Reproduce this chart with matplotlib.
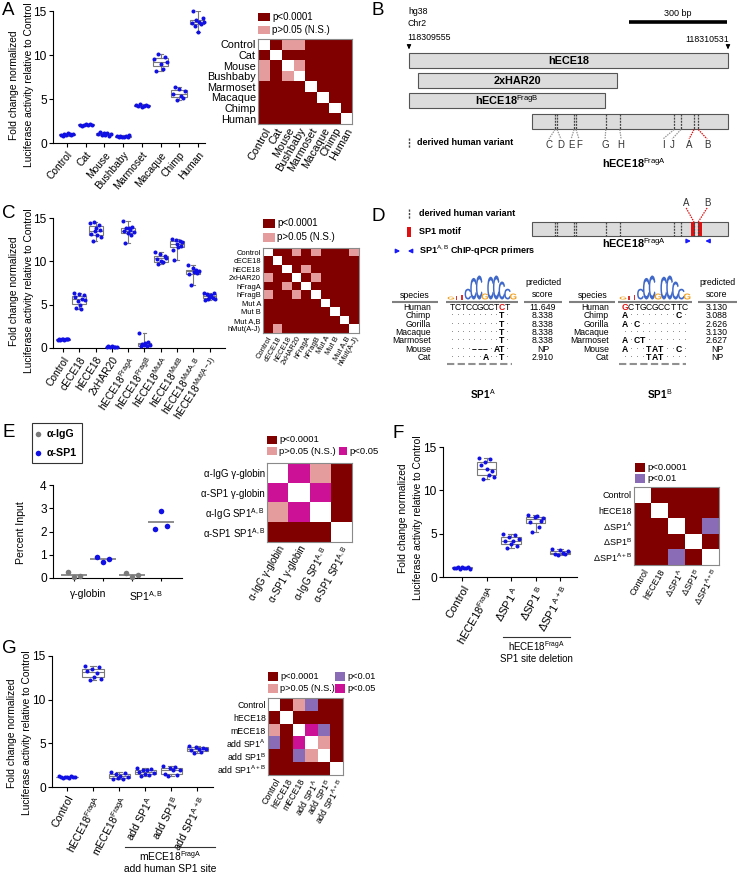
import numpy as np
import matplotlib
matplotlib.use("Agg")
import matplotlib.pyplot as plt
from matplotlib.patches import Rectangle, PathPatch
from matplotlib.colors import ListedColormap
from matplotlib.textpath import TextPath
from matplotlib.font_manager import FontProperties
from matplotlib.transforms import Affine2D

plt.rcParams["font.family"] = ["Liberation Sans", "DejaVu Sans"]
plt.rcParams["mathtext.fontset"] = "custom"
plt.rcParams["mathtext.rm"] = "Liberation Sans"
plt.rcParams["mathtext.it"] = "Liberation Sans:italic"
plt.rcParams["mathtext.bf"] = "Liberation Sans:bold"
plt.rcParams["axes.linewidth"] = 0.8


def sup(base, s):
    return base + r"$^{\mathrm{" + s + "}}$"


# ---------------- data ----------------
# A: species enhancers
labels_A = ["Control", "Cat", "Mouse", "Bushbaby", "Marmoset", "Macaque", "Chimp", "Human"]
ctrl_A = [0.95, 0.85, 1.05, 0.9, 1.1, 1.0, 0.92, 1.02]
cat_A = [2.1, 1.95, 2.05, 2.2, 2.0, 2.15, 2.1]
mouse_A = [1.0, 1.2, 0.9, 1.1, 0.95, 1.15, 0.85, 1.05]
bush_A = [0.75, 0.65, 0.85, 0.7, 0.68, 0.8, 0.72, 0.9]
marm_A = [4.3, 4.15, 4.4, 4.1, 4.25, 4.35, 4.2]
mac_A = [9.6, 8.2, 10.1, 9.0, 8.4, 9.8, 9.2]
chimp_A = [5.6, 6.4, 4.9, 6.1, 5.3, 5.1, 5.9]
human_A = [13.6, 15.0, 13.3, 14.0, 12.6, 13.8, 13.5, 14.2, 13.7]
groups_A = [ctrl_A, cat_A, mouse_A, bush_A, marm_A, mac_A, chimp_A, human_A]
# 0 = same, 1 = p<0.0001, 2 = N.S., 3 = p<0.01, 4 = p<0.05
sig_A = [
    [0, 1, 2, 2, 1, 1, 1, 1],
    [1, 0, 1, 1, 1, 1, 1, 1],
    [2, 1, 0, 2, 1, 1, 1, 1],
    [2, 1, 2, 0, 1, 1, 1, 1],
    [1, 1, 1, 1, 0, 1, 1, 1],
    [1, 1, 1, 1, 1, 0, 1, 1],
    [1, 1, 1, 1, 1, 1, 0, 1],
    [1, 1, 1, 1, 1, 1, 1, 0],
]

# C: constructs
labels_C = ["Control", "cECE18", "hECE18", "2xHAR20", sup("hECE18", "FragA"), sup("hECE18", "FragB"),
            sup("hECE18", "MutA"), sup("hECE18", "MutB"), sup("hECE18", "MutA,B"), sup("hECE18", "Mut(A-J)")]
heat_labels_C = ["Control", "cECE18", "hECE18", "2xHAR20", "hFragA", "hFragB", "Mut A", "Mut B",
                 "Mut A,B", "hMut(A-J)"]
ctrl_C = [0.95, 1.02, 0.98, 1.05, 1.0, 0.97, 1.03, 1.0, 0.99]
cece_C = [6.3, 5.9, 4.6, 5.4, 6.2, 5.0, 4.5, 5.7, 6.1, 5.5]
hece_C = [14.4, 13.2, 12.4, 14.5, 13.5, 13.8, 13.0, 14.2, 13.6, 12.8]
har_C = [0.1, 0.18, 0.12, 0.2, 0.15, 0.13, 0.16]
fraga_C = [14.7, 13.5, 12.1, 13.9, 13.3, 13.8, 13.6, 13.0, 14.0, 13.4]
fragb_C = [1.7, 0.2, 0.5, 0.3, 0.6, 0.25, 0.7, 0.4]
muta_C = [11.1, 10.3, 9.7, 10.8, 10.0, 9.9, 10.6, 10.4]
mutb_C = [12.6, 11.3, 10.2, 12.5, 12.0, 11.6, 12.4, 11.8, 12.2]
mutab_C = [9.6, 8.5, 7.3, 9.2, 8.8, 9.0, 8.6, 8.9]
hmut_C = [6.4, 5.5, 6.2, 5.7, 6.0, 5.9, 6.1, 5.8, 6.3, 5.6]
groups_C = [ctrl_C, cece_C, hece_C, har_C, fraga_C, fragb_C, muta_C, mutb_C, mutab_C, hmut_C]
sig_C = [
    [0, 1, 1, 2, 1, 2, 1, 1, 1, 2],
    [1, 0, 1, 1, 1, 1, 1, 1, 1, 1],
    [1, 1, 0, 1, 2, 1, 1, 1, 1, 1],
    [2, 1, 1, 0, 1, 2, 1, 1, 1, 1],
    [1, 1, 2, 1, 0, 1, 1, 1, 1, 1],
    [2, 1, 1, 2, 1, 0, 1, 1, 1, 1],
    [1, 1, 1, 1, 1, 1, 0, 1, 1, 1],
    [1, 1, 1, 1, 1, 1, 1, 0, 1, 1],
    [1, 1, 1, 1, 1, 1, 1, 1, 0, 1],
    [1, 2, 1, 1, 1, 1, 1, 1, 1, 0],
]

# E: ChIP-qPCR
igg_glob = [0.25, 0.05, 0.07]
sp1_glob = [0.9, 0.7, 0.8]
igg_sp1 = [0.2, 0.06, 0.15]
sp1_sp1 = [2.12, 2.9, 2.22]
groups_E = [igg_glob, sp1_glob, igg_sp1, sp1_sp1]
antibody_E = ["IgG", "SP1", "IgG", "SP1"]
loci_E = ["γ-globin", sup("SP1", "A,B")]
heat_labels_E = ["α-IgG γ-globin", "α-SP1 γ-globin", sup("α-IgG SP1", "A,B"), sup("α-SP1 SP1", "A,B")]
sig_E = [
    [0, 4, 2, 1],
    [4, 0, 4, 1],
    [2, 4, 0, 1],
    [1, 1, 1, 0],
]

# F: SP1 site deletion
labels_F = ["Control", sup("hECE18", "FragA"), "ΔSP1" + r"$^{\ \mathrm{A}}$", "ΔSP1" + r"$^{\ \mathrm{B}}$",
            "ΔSP1" + r"$^{\ \mathrm{A+B}}$"]
heat_labels_F = ["Control", "hECE18", sup("ΔSP1", "A"), sup("ΔSP1", "B"), sup("ΔSP1", "A+B")]
ctrl_F = [1.0, 1.05, 1.1, 0.95, 1.15, 1.0, 1.05, 1.1, 0.98]
frag_F = [13.7, 12.9, 11.3, 13.3, 12.5, 11.8, 13.6, 12.2, 11.5]
da_F = [5.0, 4.2, 3.4, 4.6, 3.8, 4.1, 4.8, 3.6, 4.4]
db_F = [7.2, 6.3, 5.2, 6.9, 7.0, 5.8, 6.5, 6.8]
dab_F = [3.2, 2.6, 2.5, 3.1, 2.8, 2.7, 3.0]
groups_F = [ctrl_F, frag_F, da_F, db_F, dab_F]
sig_F = [
    [0, 1, 1, 1, 1],
    [1, 0, 1, 1, 1],
    [1, 1, 0, 1, 3],
    [1, 1, 1, 0, 1],
    [1, 1, 3, 1, 0],
]

# G: add human SP1 site
labels_G = ["Control", sup("hECE18", "FragA"), sup("mECE18", "FragA"), sup("add SP1", "A"), sup("add SP1", "B"),
            sup("add SP1", "A+B")]
heat_labels_G = ["Control", "hECE18", "mECE18", sup("add SP1", "A"), sup("add SP1", "B"), sup("add SP1", "A+B")]
ctrl_G = [1.3, 1.1, 1.0, 1.2, 1.15, 1.05, 1.25, 1.1, 1.2]
frag_G = [13.8, 13.3, 12.2, 13.5, 12.6, 13.0, 13.7, 12.4]
m_G = [1.7, 0.9, 1.5, 1.0, 1.3, 0.95, 1.6, 1.2]
adda_G = [2.2, 1.7, 1.3, 2.0, 1.5, 1.9, 1.4, 2.1, 1.6]
addb_G = [2.4, 1.5, 1.3, 2.2, 1.9, 2.3, 1.4, 2.0]
addab_G = [4.7, 4.2, 3.9, 4.6, 4.3, 4.0, 4.5, 4.4]
groups_G = [ctrl_G, frag_G, m_G, adda_G, addb_G, addab_G]
sig_G = [
    [0, 1, 2, 3, 1, 1],
    [1, 0, 1, 1, 1, 1],
    [2, 1, 0, 4, 3, 1],
    [3, 1, 4, 0, 2, 1],
    [1, 1, 3, 2, 0, 1],
    [1, 1, 1, 1, 1, 0],
]

# B / D: hECE18 map (bp from 118309555)
region_names = ["hECE18", "2xHAR20", sup("hECE18", "FragB"), ""]
region_start = [0, 27, 0, 376]
region_end = [976, 636, 600, 976]
variant_names = ["C", "D", "E", "F", "G", "H", "I", "J", "A", "B"]
variant_bp = [447, 453, 505, 511, 602, 645, 811, 832, 872, 885]
sp1_start = [862, 883]
sp1_end = [875, 896]

species_D = ["Human", "Chimp", "Gorilla", "Macaque", "Marmoset", "Mouse", "Cat"]
seq_A = ["TCTCCGCCTCT", "·········T·", "·········T·", "·········T·", "·········T·", "····–––·AT·",
         "······A··T·"]
score_A = ["11.649", "8.338", "8.338", "8.338", "8.338", "NP", "2.910"]
seq_B = ["GCTGCGCCTTC", "A········C·", "A·C········", "···········", "A·CT·······", "A···TAT··C·",
         "····TAT····"]
score_B = ["3.130", "3.088", "2.626", "3.130", "2.627", "NP", "NP"]
logo_letters = ["G", "T", "T", "C", "C", "C", "G", "C", "C", "C", "C", "G"]
logo_heights = [0.12, 0.15, 0.2, 0.45, 0.9, 1.0, 0.25, 0.95, 1.0, 0.75, 0.45, 0.25]

# ---------------- figure ----------------
W, H = 737, 876
fig = plt.figure(figsize=(W / 100, H / 100), dpi=100)

DARK = "#800000"
sig_cmap = ListedColormap(["white", DARK, "#e49c9c", "#8a6bb5", "#cc1196"])
sig_colors = sig_cmap.colors
BLUE = "#1010e6"
GRAY = "#7a7a7a"


def px_axes(x0, y0, x1, y1):
    return fig.add_axes([x0 / W, 1 - y1 / H, (x1 - x0) / W, (y1 - y0) / H])


def box_panel(rect, groups, labels, xlim, width, rot, fs):
    ax = px_axes(*rect)
    pos = np.arange(len(groups))
    ax.boxplot(groups, positions=pos, widths=width, whis=(0, 100), patch_artist=True, showfliers=False,
               capwidths=0.22,
               boxprops=dict(facecolor="white", edgecolor=GRAY, linewidth=0.8),
               medianprops=dict(color=GRAY, linewidth=0.8),
               whiskerprops=dict(color=GRAY, linewidth=0.8),
               capprops=dict(color=GRAY, linewidth=0.8))
    for i, g in enumerate(groups):
        off = np.linspace(-0.33, 0.33, len(g)) * width / 0.85
        ax.plot(i + off, g, "o", color=BLUE, ms=2.9, mew=0, zorder=4, clip_on=False)
    ax.set_xlim(*xlim)
    ax.set_ylim(0, 15)
    ax.set_yticks([0, 5, 10, 15])
    ax.set_xticks(pos)
    ax.set_xticklabels(labels, rotation=rot, ha="right", rotation_mode="anchor", fontsize=fs)
    ax.tick_params(axis="y", labelsize=8.6, length=3, width=0.8, pad=1.5)
    ax.tick_params(axis="x", length=3, width=0.8, pad=2)
    for s in ["top", "right"]:
        ax.spines[s].set_visible(False)
    return ax


def heat_panel(rect, mat, labels, fs, rot=60):
    ax = px_axes(*rect)
    n = len(mat)
    ax.imshow(np.array(mat), cmap=sig_cmap, vmin=-0.5, vmax=4.5, aspect="auto", interpolation="nearest")
    ax.set_xticks(range(n))
    ax.set_xticklabels(labels, rotation=rot, ha="right", rotation_mode="anchor", fontsize=fs)
    ax.set_yticks(range(n))
    ax.set_yticklabels(labels, fontsize=fs)
    ax.tick_params(length=0, pad=1.5)
    for s in ax.spines.values():
        s.set_color("#8a8a8a")
        s.set_linewidth(0.8)
    return ax


# A
box_panel((53, 11, 205, 143), groups_A, labels_A, (-0.75, 7.38), 0.85, 50, 7.4)
heat_panel((258, 39, 352, 124), sig_A, labels_A, 7.8)

# C
box_panel((53, 218, 225, 348), groups_C, labels_C, (-0.62, 9.95), 0.85, 57, 7.4)
heat_panel((263, 248, 359, 333), sig_C, heat_labels_C, 5.4)

# E
axE = px_axes(53, 485, 182, 578)
for i, g in enumerate(groups_E):
    col = BLUE if antibody_E[i] == "SP1" else GRAY
    axE.plot(i + np.array([-0.2, 0.0, 0.2]), g, "o", color=col, ms=4, mew=0, clip_on=False, zorder=3)
    axE.hlines(np.mean(g), i - 0.44, i + 0.44, color=GRAY, lw=1.2, zorder=2)
axE.set_xlim(-0.72, 3.72)
axE.set_ylim(0, 4)
axE.set_yticks([0, 1, 2, 3, 4])
axE.set_xticks([0, 1, 2, 3])
axE.set_xticklabels([])
axE.set_xticks([0.5, 2.5], minor=True)
axE.set_xticklabels(loci_E, minor=True, fontsize=7.5)
axE.tick_params(axis="x", which="minor", length=0, pad=8)
axE.tick_params(axis="x", which="major", length=2.5, width=0.8)
axE.tick_params(axis="y", labelsize=8.6, length=3, width=0.8, pad=1.5)
for s in ["top", "right"]:
    axE.spines[s].set_visible(False)
heat_panel((267, 463, 352, 542), sig_E, heat_labels_E, 7)

# F
box_panel((443, 447, 577, 577), groups_F, labels_F, (-0.78, 4.69), 0.8, 60, 8)
heat_panel((634, 487, 719, 565), sig_F, heat_labels_F, 6.5)

# G
box_panel((52, 656, 213, 787), groups_G, labels_G, (-0.58, 5.6), 0.82, 62, 7.7)
heat_panel((268, 698, 343, 775), sig_G, heat_labels_G, 6.3)

# B / D genome map axes (x in bp, y in figure px)
scale = 319 / 976
axg = px_axes(380, 0, 737, H)
axg.set_xlim((380 - 409) / scale, (737 - 409) / scale)
axg.set_ylim(H, 0)
axg.axis("off")

rows_y = [53, 73, 93, 114]
for name, s0, s1, y0 in zip(region_names, region_start, region_end, rows_y):
    axg.add_patch(Rectangle((s0, y0), s1 - s0, 15, fc="#dcdcdc", ec="#555555", lw=0.8))
    if name:
        axg.text((s0 + s1) / 2, y0 + 7.5, name, ha="center", va="center", fontsize=7.8, fontweight="bold")
axg.vlines(variant_bp, 114, 129, colors="#444444", linestyles=(0, (1.6, 0.9)), lw=0.9)
label_bp = [428, 465, 496, 520, 600, 649, 777, 805, 857, 912]
for v, lb, nm in zip(variant_bp, label_bp, variant_names):
    c = "#e01010" if nm in ("A", "B") else "#999999"
    axg.plot([v, lb], [129.5, 139], color=c, lw=0.9, ls=(0, (1.2, 0.8)))
    axg.text(lb, 145.5, nm, ha="center", va="center", fontsize=7, color="#333333")
axg.plot([673, 973], [22, 22], color="black", lw=2.6, solid_capstyle="butt")
axg.text(823, 14, "300 bp", ha="center", va="center", fontsize=6.5)
for b in (0, 976):
    axg.annotate("", xy=(b, 52), xytext=(b, 44),
                 arrowprops=dict(arrowstyle="-|>", color="black", lw=0.8, mutation_scale=6))
axg.text(688, 163, sup("hECE18", "FragA"), ha="center", va="center", fontsize=7.8, fontweight="bold")

# D fragment
axg.add_patch(Rectangle((region_start[3], 222), region_end[3] - region_start[3], 14, fc="#dcdcdc",
                        ec="#555555", lw=0.8))
for s0, s1 in zip(sp1_start, sp1_end):
    axg.add_patch(Rectangle((s0, 222), s1 - s0, 14, fc="#e01010", ec="none", zorder=3))
axg.vlines(variant_bp, 222, 236, colors="#444444", linestyles=(0, (1.6, 0.9)), lw=0.9, zorder=4)
for v, lb, nm in zip(variant_bp[-2:], [848, 912], ["A", "B"]):
    axg.plot([lb, v], [208, 222], color="#e01010", lw=0.9, ls=(0, (1.2, 0.8)))
    axg.text(lb, 202.5, nm, ha="center", va="center", fontsize=7, color="#333333")
axg.annotate("", xy=(871, 241), xytext=(840, 241),
             arrowprops=dict(arrowstyle="-|>", color="#1a1aff", lw=1.0, mutation_scale=6))
axg.annotate("", xy=(898, 241), xytext=(929, 241),
             arrowprops=dict(arrowstyle="-|>", color="#1a1aff", lw=1.0, mutation_scale=6))
axg.text(688, 243, sup("hECE18", "FragA"), ha="center", va="center", fontsize=7.8, fontweight="bold")

# ---------------- overlay: labels, legends, table ----------------
ov = fig.add_axes([0, 0, 1, 1])
ov.set_xlim(0, W)
ov.set_ylim(H, 0)
ov.axis("off")

for letter, x, y in [("A", 2, 2), ("B", 372, 2), ("C", 2, 205), ("D", 372, 208), ("E", 2, 424),
                     ("F", 393, 425), ("G", 2, 640)]:
    ov.text(x, y, letter, ha="left", va="top", fontsize=13.5)

# two-line y labels, each line as its own text
ylab1 = "Fold change normalized"
ylab2 = "Luciferase activity relative to Control"
for x, y in [(21.5, 85), (21.5, 291), (411, 518), (20, 733)]:
    ov.text(x - 7.5, y, ylab1, rotation=90, ha="center", va="center", fontsize=7.4)
    ov.text(x + 7.5, y, ylab2, rotation=90, ha="center", va="center", fontsize=7.4)
ov.text(21, 533, "Percent Input", rotation=90, ha="center", va="center", fontsize=7.6)


def legend_item(x, y, w, h, code, text, fs):
    ov.add_patch(Rectangle((x, y), w, h, fc=sig_colors[code], ec="none"))
    ov.text(x + w + 2.5, y + h / 2, text, ha="left", va="center", fontsize=fs)


legend_item(258, 13, 12, 8, 1, "p<0.0001", 7)
legend_item(258, 26, 12, 8, 2, "p>0.05 (N.S.)", 7)
legend_item(263, 219, 12, 8.5, 1, "p<0.0001", 7)
legend_item(263, 233, 12, 8.5, 2, "p>0.05 (N.S.)", 7)
legend_item(267, 436, 10, 8, 1, "p<0.0001", 6.8)
legend_item(267, 447, 10, 8, 2, "p>0.05 (N.S.)", 6.8)
legend_item(339, 447, 8, 8, 4, "p<0.05", 6.8)
legend_item(635, 463, 10, 9, 1, "p<0.0001", 6.8)
legend_item(635, 474, 10, 9, 3, "p<0.01", 6.8)
legend_item(268, 672, 10, 9, 1, "p<0.0001", 6.6)
legend_item(268, 684, 10, 9, 2, "p>0.05 (N.S.)", 6.6)
legend_item(335, 672, 10, 9, 3, "p<0.01", 6.6)
legend_item(335, 684, 10, 9, 4, "p<0.05", 6.6)

# E legend box
ov.add_patch(Rectangle((32, 423), 50, 40, fc="white", ec="#333333", lw=0.8))
ov.plot([38.5], [434], "o", color=GRAY, ms=4, mew=0)
ov.plot([38.5], [453], "o", color=BLUE, ms=4, mew=0)
ov.text(47, 434, "α-IgG", ha="left", va="center", fontsize=7.7, fontweight="bold")
ov.text(47, 453, "α-SP1", ha="left", va="center", fontsize=7.7, fontweight="bold")

# B header text
ov.text(408, 12, "hg38", ha="left", va="center", fontsize=6.3)
ov.text(408, 24, "Chr2", ha="left", va="center", fontsize=6.3)
ov.text(407, 37, "118309555", ha="left", va="center", fontsize=6.3)
ov.text(729, 40, "118310531", ha="right", va="center", fontsize=6.3)
ov.plot([409, 409], [138, 148], color="#444444", lw=1.0, ls=(0, (1.6, 0.9)))
ov.text(417, 142.5, "derived human variant", ha="left", va="center", fontsize=6.5, fontweight="bold")

# D legend
ov.plot([409, 409], [209, 219], color="#444444", lw=1.0, ls=(0, (1.6, 0.9)))
ov.text(419, 214, "derived human variant", ha="left", va="center", fontsize=6.5, fontweight="bold")
ov.add_patch(Rectangle((407, 227), 4, 10, fc="#e01010", ec="none"))
ov.text(419, 232, "SP1 motif", ha="left", va="center", fontsize=6.5, fontweight="bold")
ov.annotate("", xy=(403, 251), xytext=(394, 251),
            arrowprops=dict(arrowstyle="-|>", color="#1a1aff", lw=1.0, mutation_scale=6))
ov.annotate("", xy=(405, 251), xytext=(414, 251),
            arrowprops=dict(arrowstyle="-|>", color="#1a1aff", lw=1.0, mutation_scale=6))
ov.text(419, 251, sup("SP1", "A,B") + " ChIP-qPCR primers", ha="left", va="center", fontsize=6.5,
        fontweight="bold")

# D table
glyph_font = FontProperties(family="Liberation Sans", weight="bold")
glyph_colors = {"C": "#3f68c8", "G": "#f0a020", "T": "#d83030", "A": "#30a030"}


def draw_logo(x0, x1, ybot, htot):
    step = (x1 - x0) / len(logo_letters)
    for i, (ch, hh) in enumerate(zip(logo_letters, logo_heights)):
        tp = TextPath((0, 0), ch, size=1, prop=glyph_font)
        bb = tp.get_extents()
        w = step * 1.15
        h = htot * hh
        tr = (Affine2D().translate(-bb.x0, -bb.y0).scale(w / bb.width, -h / bb.height)
              .translate(x0 + i * step - 0.07 * step, ybot))
        ov.add_patch(PathPatch(tr.transform_path(tp), fc=glyph_colors[ch], ec="none"))


def draw_seq(seq, x0, step, y, human, red):
    for i, ch in enumerate(seq):
        x = x0 + i * step
        if ch == "·":
            ov.text(x, y, ch, ha="center", va="center", fontsize=6, color="#555555")
        elif human:
            is_red = i == red
            ov.text(x, y, ch, ha="center", va="center", fontsize=6.2,
                    color="#e01010" if is_red else "black", fontweight="bold" if is_red else "normal")
        else:
            ov.text(x, y, ch, ha="center", va="center", fontsize=6.2, fontweight="bold")


for cx_sp, x_seq, st, cx_sc, lines, red, seqs, scores in [
        (415, 452.5, 5.5, 543, [(392, 438), (446, 518), (524, 562)], 9, seq_A, score_A),
        (593, 625.0, 6.0, 717, [(569, 615), (618, 692), (698, 737)], 0, seq_B, score_B)]:
    ov.text(cx_sp, 296, "species", ha="center", va="center", fontsize=6.3)
    ov.text(cx_sc, 288.5, "predicted\nscore", ha="center", va="center", fontsize=6.3, linespacing=1.45)
    for a, b in lines:
        ov.plot([a, b], [301.5, 301.5], color="#808080", lw=1.5, solid_capstyle="butt")
    draw_logo(lines[1][0] + 2, lines[1][1] - 2, 299.5, 24)
    for k, sp in enumerate(species_D):
        y = 307.5 + 8.33 * k
        ov.text(cx_sp + 16, y, sp, ha="right", va="center", fontsize=6.2)
        draw_seq(seqs[k], x_seq, st, y, k == 0, red)
        ov.text(cx_sc, y, scores[k], ha="center", va="center", fontsize=6.3)
    ov.plot([lines[1][0] + 1, lines[1][1] - 6], [364, 364], color="#909090", lw=1.5, ls=(0, (3.5, 1.6)))

ov.text(483, 394, sup("SP1", "A"), ha="center", va="center", fontsize=7.2, fontweight="bold")
ov.text(660, 394, sup("SP1", "B"), ha="center", va="center", fontsize=7.2, fontweight="bold")

# brackets F and G
ov.plot([503, 570], [637, 637], color="#333333", lw=0.8)
ov.text(536.5, 646.5, sup("hECE18", "FragA"), ha="center", va="center", fontsize=7)
ov.text(536.5, 659, "SP1 site deletion", ha="center", va="center", fontsize=7)
ov.plot([125, 215], [847, 847], color="#333333", lw=0.8)
ov.text(170, 856.5, sup("mECE18", "FragA"), ha="center", va="center", fontsize=7.4)
ov.text(170, 869.5, "add human SP1 site", ha="center", va="center", fontsize=7.4)

fig.savefig("out.png", dpi=100)
